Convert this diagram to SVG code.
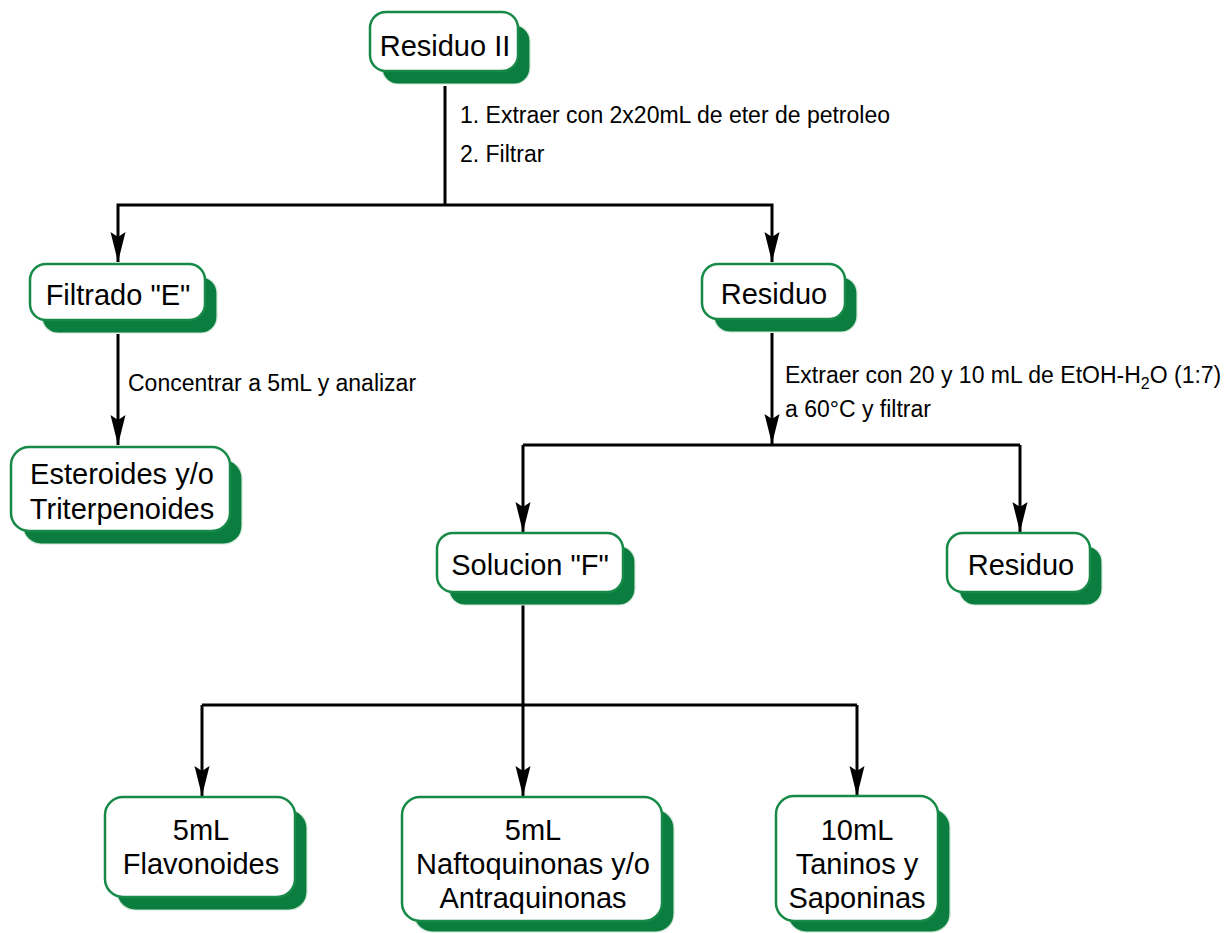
<svg xmlns="http://www.w3.org/2000/svg" width="1228" height="933" viewBox="0 0 1228 933">
<style>
.sh{fill:#0b7d3e;stroke:#cfe6d7;stroke-width:1.2}
.bx{fill:#ffffff;stroke:#178a47;stroke-width:2.5}
.nt{font-family:"Liberation Sans",Arial,sans-serif;font-size:29px;fill:#000;text-anchor:middle}
.lb{font-family:"Liberation Sans",Arial,sans-serif;font-size:23px;fill:#000}
.cn{fill:none;stroke:#000;stroke-width:3}
</style>
<defs>
<marker id="ah" markerUnits="userSpaceOnUse" orient="auto" markerWidth="32" markerHeight="16" viewBox="0 -8 32 16" refX="30" refY="0">
<path d="M30,0 L0,-7.5 L5,0 L0,7.5 Z" fill="#000"/>
</marker>
</defs>
<rect width="1228" height="933" fill="#fff"/>
<g id="connectors">
<path class="cn" d="M445,86 V205"/>
<path class="cn" d="M445,205 H118 V262" marker-end="url(#ah)"/>
<path class="cn" d="M445,205 H772 V262" marker-end="url(#ah)"/>
<path class="cn" d="M118,334 V445" marker-end="url(#ah)"/>
<path class="cn" d="M772,333 V444" marker-end="url(#ah)"/>
<path class="cn" d="M523,445 H1020"/>
<path class="cn" d="M523,445 V532" marker-end="url(#ah)"/>
<path class="cn" d="M1020,445 V532" marker-end="url(#ah)"/>
<path class="cn" d="M523,605 V796" marker-end="url(#ah)"/>
<path class="cn" d="M202,705 H857"/>
<path class="cn" d="M202,705 V796" marker-end="url(#ah)"/>
<path class="cn" d="M857,705 V796" marker-end="url(#ah)"/>
<text class="lb" x="460" y="123">1. Extraer con 2x20mL de eter de petroleo</text>
<text class="lb" x="460" y="162">2. Filtrar</text>
<text class="lb" x="128" y="391">Concentrar a 5mL y analizar</text>
<text class="lb" x="785" y="383">Extraer con 20 y 10 mL de EtOH-H<tspan dy="6" font-size="16">2</tspan><tspan dy="-6">O (1:7)</tspan></text>
<text class="lb" x="785" y="417">a 60°C y filtrar</text>
</g>
<g id="n-residuo-ii">
<rect class="sh" x="382" y="25" width="148" height="59" rx="16"/>
<rect class="bx" x="370" y="12" width="148" height="59" rx="16"/>
<text class="nt" x="445" y="56">Residuo II</text>
</g>
<g id="n-filtrado-e">
<rect class="sh" x="42" y="277" width="175" height="56" rx="16"/>
<rect class="bx" x="30" y="264" width="175" height="56" rx="16"/>
<text class="nt" x="118" y="305">Filtrado "E"</text>
</g>
<g id="n-residuo-1">
<rect class="sh" x="714" y="277" width="143" height="55" rx="16"/>
<rect class="bx" x="702" y="264" width="143" height="55" rx="16"/>
<text class="nt" x="774" y="304">Residuo</text>
</g>
<g id="n-esteroides">
<rect class="sh" x="23" y="460" width="219" height="84" rx="18"/>
<rect class="bx" x="11" y="447" width="219" height="84" rx="18"/>
<text class="nt" x="122" y="484">Esteroides y/o</text>
<text class="nt" x="122" y="519">Triterpenoides</text>
</g>
<g id="n-solucion-f">
<rect class="sh" x="449" y="546" width="186" height="59" rx="16"/>
<rect class="bx" x="437" y="533" width="186" height="59" rx="16"/>
<text class="nt" x="530" y="575">Solucion "F"</text>
</g>
<g id="n-residuo-2">
<rect class="sh" x="959" y="546" width="143" height="59" rx="16"/>
<rect class="bx" x="947" y="533" width="143" height="59" rx="16"/>
<text class="nt" x="1021" y="575">Residuo</text>
</g>
<g id="n-flavonoides">
<rect class="sh" x="117" y="810" width="190" height="100" rx="18"/>
<rect class="bx" x="105" y="797" width="190" height="100" rx="18"/>
<text class="nt" x="201" y="840">5mL</text>
<text class="nt" x="201" y="874">Flavonoides</text>
</g>
<g id="n-naftoquinonas">
<rect class="sh" x="414" y="810" width="260" height="122" rx="18"/>
<rect class="bx" x="402" y="797" width="260" height="124" rx="18"/>
<text class="nt" x="533" y="840">5mL</text>
<text class="nt" x="533" y="874">Naftoquinonas y/o</text>
<text class="nt" x="533" y="908">Antraquinonas</text>
</g>
<g id="n-taninos">
<rect class="sh" x="788" y="809" width="162" height="123" rx="18"/>
<rect class="bx" x="776" y="796" width="162" height="125" rx="18"/>
<text class="nt" x="857" y="840">10mL</text>
<text class="nt" x="857" y="874">Taninos y</text>
<text class="nt" x="857" y="908">Saponinas</text>
</g>
</svg>
